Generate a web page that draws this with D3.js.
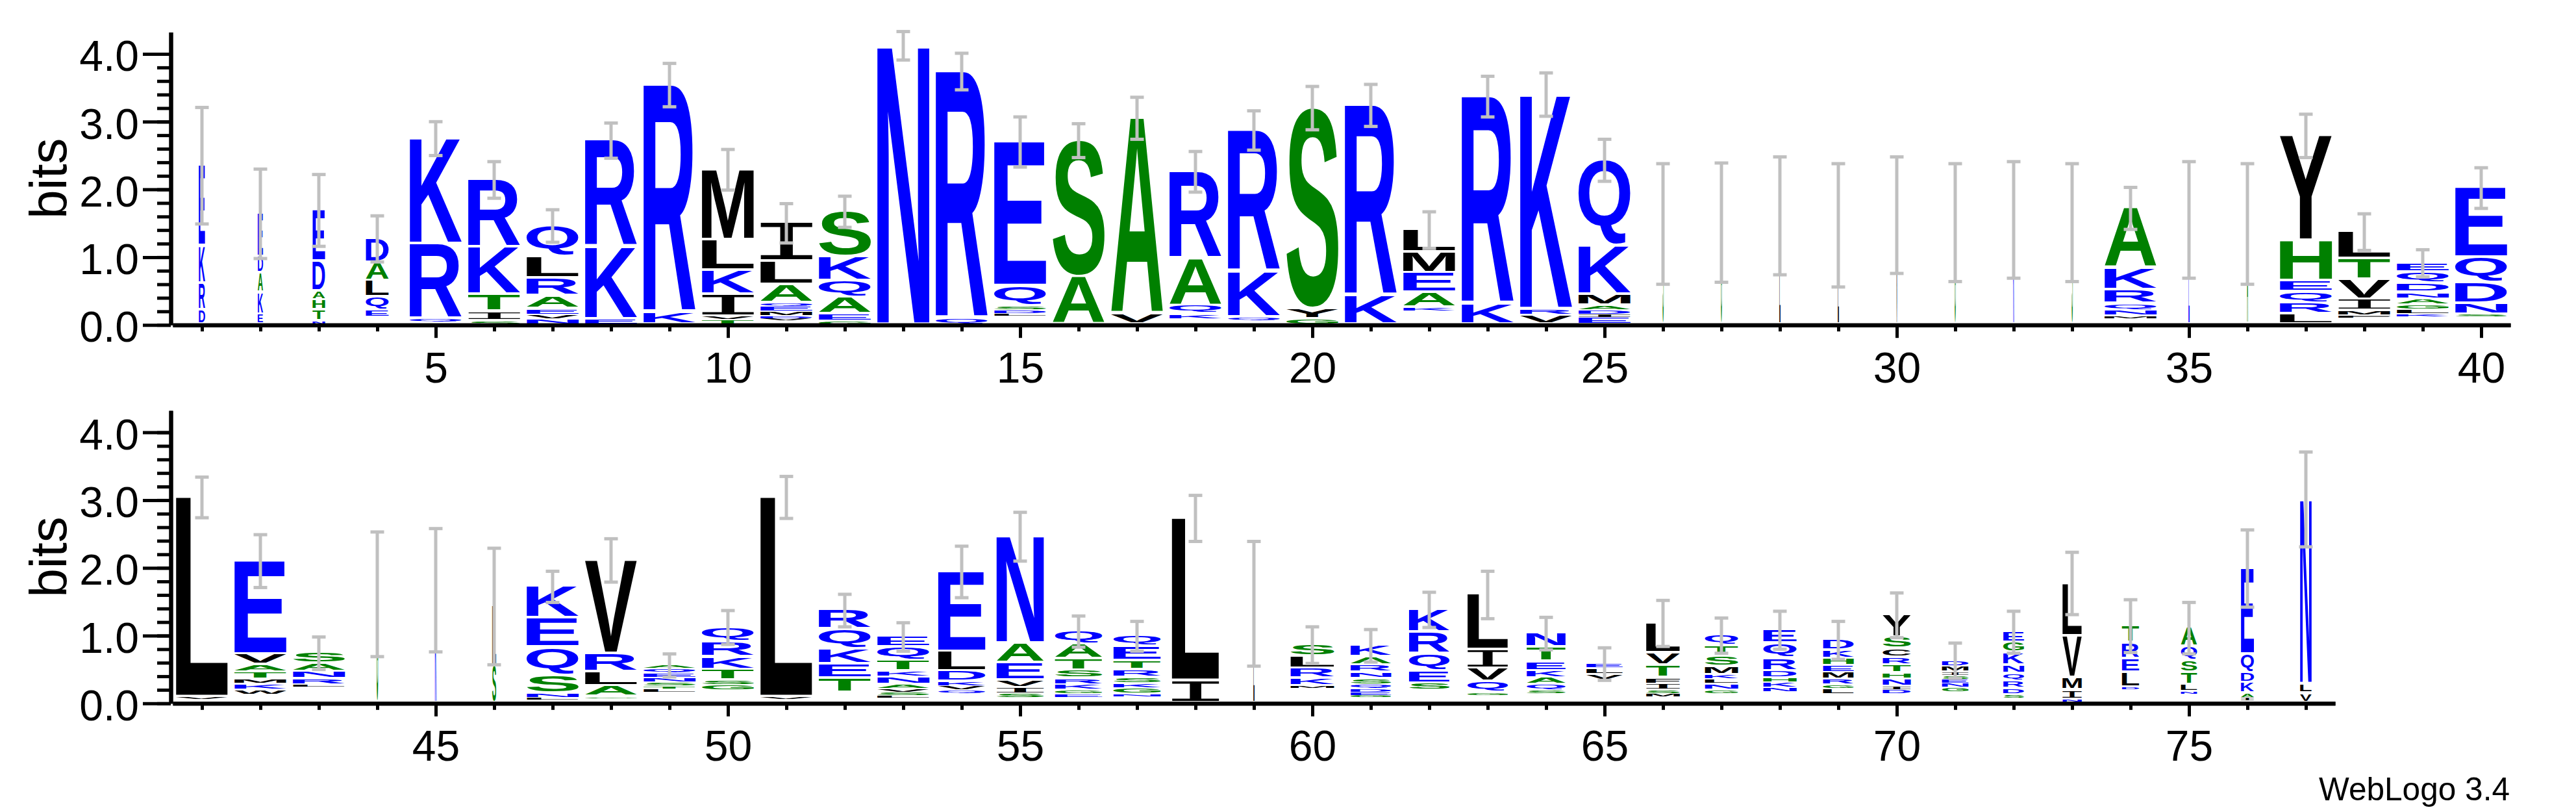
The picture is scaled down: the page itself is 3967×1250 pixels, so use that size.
<!DOCTYPE html>
<html><head><meta charset="utf-8">
<script src="https://cdn.jsdelivr.net/npm/d3@7"></script>
<style>html,body{margin:0;padding:0;background:#fff;}</style>
</head><body>
<script>
// ---------------- DATA ----------------
// Each stack: letters bottom -> top, "Xbits" ; "_" = invisible (very small letters)
const stacksTop = [
 "D.21 R.40 K.55 E1.19",
 "E.15 K.32 A.29 D.24 E.64",
 "N.05 T.16 H.15 A.13 D.44 E.76",
 "_.11 E.10 Q.19 L.24 A.27 D.36",
 "_.04 Q.04 R1.11 K1.56",
 "S.05 I.14 T.25 K.70 R1.00",
 "N.08 V.06 E.09 A.19 R.26 L.32 Q.46",
 "E.08 K1.06 R1.58",
 "K.17 R3.37",
 "T.07 V.05 I.32 K.36 L.45 M1.04",
 "_.06 V.03 D.04 M.06 E.08 Q.05 A.27 L.34 I.57",
 "G.05 E.10 A.25 Q.24 K.36 S.67",
 "N4.12",
 "Q.08 R3.66",
 "_.13 L.03 D.05 S.06 Q.30 E2.13",
 "A.70 S2.02",
 "V.15 A2.90",
 "_.08 K.07 Q.13 A.69 R1.29",
 "_.06 Q.05 K.67 R2.09",
 "G.08 Y.15 S2.97",
 "K.42 R2.82",
 "_.20 K.05 A.22 E.29 M.31 L.33",
 "K.30 R3.07",
 "V.14 R.09 K3.17",
 "E.10 I.05 D.06 A.07 M.16 K.72 Q1.27",
 "S1.49", "G1.51", "L1.61", "L1.47", "V1.62", "G1.51", "K1.55", "S1.51",
 "_.09 M.04 N.08 Q.10 R.20 K.32 A.89",
 "E1.55", "A1.49",
 "L.15 R.16 Q.17 E.16 H.60 Y1.55",
 "_.10 F.04 M.06 I.17 V.29 T.31 L.40",
 "_.12 K.03 L.07 G.07 A.09 N.09 D.14 Q.16 E.14",
 "_.12 S.03 N.16 D.31 Q.37 E1.03"
];
const stacksBottom = [
 "_.06 V.03 L2.95",
 "_.12 W.07 K.09 M.07 T.11 A.10 V.16 E1.38",
 "_.24 L.03 R.09 N.10 A.12 S.16",
 "G1.61",
 "K1.67",
 "S.55 L.88",
 "_.05 L.03 N.06 S.27 Q.41 E.43 K.47",
 "_.07 G.02 A.16 L.21 R.27 V1.38",
 "_.16 L.05 T.04 S.06 N.06 E.07 Q.07 A.05",
 "_.18 G.08 S.07 T.16 K.19 R.22 Q.22",
 "_.06 V.03 L2.95",
 "_.15 T.21 E.21 K.22 Q.30 R.28",
 "_.07 L.04 S.05 V.05 A.06 N.11 K.09 T.16 Q.19 E.16",
 "_.14 Q.05 V.06 K.06 D.16 L.29 E1.18",
 "_.07 S.07 I.08 V.11 E.26 A.29 N1.58",
 "_.08 E.05 G.06 K.08 R.09 S.12 T.17 A.22 Q.19",
 "_.09 N.04 G.09 K.07 S.09 R.11 T.13 E.21 Q.16",
 "I.33 L2.40",
 "L1.47",
 "_.22 M.04 K.10 R.15 L.18 S.17",
 "_.08 G.03 E.05 D.05 Q.06 S.09 N.09 R.11 A.12 K.17",
 "_.18 S.11 E.18 Q.25 R.32 K.34",
 "_.11 G.04 Q.16 V.20 I.27 L.82",
 "_.13 S.06 Q.08 A.10 K.10 E.14 T.21 N.21",
 "_.34 V.08 L.09 E.07",
 "_.09 M.05 S.05 I.09 F.09 T.18 V.19 L.44",
 "_.14 G.05 N.09 L.07 K.06 M.12 S.15 T.16 Q.16",
 "_.16 N.06 K.08 H.07 D.10 R.19 Q.22 E.20",
 "_.13 L.08 G.06 R.08 M.10 E.10 H.10 K.12 D.16",
 "_.13 D.06 I.06 N.10 H.09 T.12 R.11 C.13 S.17 Y.33",
 "_.16 G.07 N.06 E.06 S.05 I.06 M.08 D.09",
 "_.07 S.06 D.08 R.11 Q.11 N.12 K.19 G.15 E.16",
 "_.02 N.03 I.14 M.18 V.62 L.78",
 "_.20 D.03 L.22 E.20 R.24 T.25",
 "_.13 N.04 L.10 T.18 S.17 Q.21 A.28",
 "_.03 I.05 A.06 K.16 D.15 Q.27 E1.27",
 "V.14 L.14 N2.73"
];
// error bar half-widths (bits)
const errTop = [.86,.66,.53,.34,.25,.27,.24,.26,.32,.30,.29,.23,.21,.27,.37,.25,.31,.30,.29,.32,
                .31,.27,.30,.32,.31,.89,.88,.87,.91,.86,.87,.86,.87,.31,.86,.89,.32,.27,.20,.30];
const errBottom = [.30,.39,.24,.92,.91,.86,.23,.32,.17,.25,.31,.24,.21,.38,.36,.23,.22,.34,.92,.27,
                   .24,.26,.35,.24,.24,.34,.26,.28,.28,.33,.26,.31,.46,.39,.38,.57,.70];
// fraction of non-gap sequences (stack width scale)
const occTop = [.12,.10,.24,.44,1,1,1,1,1,1,1,1,1,1,1,1,1,1,1,1,
                1,1,1,1,1,.02,.02,.02,.02,.02,.02,.02,.02,1,.02,.02,1,1,1,1];
const occBottom = [1,1,1,.03,.03,.075,1,1,1,1,1,1,1,.91,.91,.91,.91,.91,.02,.84,
                   .78,.78,.78,.75,.70,.65,.64,.64,.59,.54,.51,.40,.37,.33,.31,.25,.22];
const yMajorTicks = [0,1,2,3,4];
const yMinorTicks = d3.range(0, 21).map(i => i * 0.2);
const yMax = Math.log2(20);
const hydrophilic = "RKDENQ", neutral = "SGHTAP", hydrophobic = "YVMCLFIW";
const footer = "WebLogo 3.4";

// ---------------- RENDER ----------------
const W = 3967, H = 1250;
const svg = d3.select("body").append("svg").attr("width", W).attr("height", H)
  .style("display","block");
svg.append("rect").attr("width",W).attr("height",H).attr("fill","#fff");

const color = ch => hydrophilic.includes(ch) ? "#0000ff" : neutral.includes(ch) ? "#008000" : "#000000";
const LETTER_FONT = "'Liberation Sans', Arial, sans-serif";
const SERIF_I_FONT = "'DejaVu Sans Mono', 'Liberation Mono', monospace";
const fontFor = ch => ch === "I" ? { fam: SERIF_I_FONT, wt: "normal" } : { fam: LETTER_FONT, wt: "bold" };
const ctx = document.createElement("canvas").getContext("2d");
const mcache = {};
function metrics(ch) {
  if (mcache[ch]) return mcache[ch];
  const f = fontFor(ch);
  ctx.font = f.wt + " 200px " + f.fam;
  const m = ctx.measureText(ch);
  return mcache[ch] = { x0: -m.actualBoundingBoxLeft, w: m.actualBoundingBoxLeft + m.actualBoundingBoxRight,
                        y0: -m.actualBoundingBoxAscent, h: m.actualBoundingBoxAscent + m.actualBoundingBoxDescent };
}
const parse = s => s.split(" ").map(t => ({ ch: t[0], bits: +t.slice(1) }));

function drawRow(startPos, stacks, errs, occ, y0, xRight) {
  const n = stacks.length;
  const g = svg.append("g");
  const x = d3.scaleLinear().domain([startPos - 0.5, startPos + n - 0.5]).range([266, xRight]);
  const pxPerBit = 104.3;
  const y = d3.scaleLinear().domain([0, yMax]).range([y0, y0 - yMax * pxPerBit]);
  const fullW = (x(1) - x(0)) * 0.89;
  const positions = d3.range(startPos, startPos + n);

  const lg = g.append("g");
  positions.forEach((p, i) => {
    const w = fullW * occ[i];
    const xl = x(p) - w / 2;
    let cum = 0;
    parse(stacks[i]).forEach(({ ch, bits }) => {
      const b = cum, t = cum + bits; cum = t;
      if (ch === "_") return;
      const yTop = y(t), yBot = y(b);
      const hpx = yBot - yTop;
      const pad = Math.min(4, 0.3 * hpx);
      const m = metrics(ch), f = fontFor(ch);
      lg.append("text").text(ch)
        .attr("font-family", f.fam).attr("font-weight", f.wt).attr("font-size", 200)
        .attr("fill", color(ch))
        .attr("transform", `translate(${xl},${yTop}) scale(${w / m.w},${(hpx - pad) / m.h}) translate(${-m.x0},${-m.y0})`);
    });
    const e = errs[i];
    const eg = g.append("g").attr("stroke", "#c0c0c0").attr("stroke-width", 5).attr("fill", "none");
    const cx = x(p), yt = y(cum + e), yb = y(cum - e);
    eg.append("line").attr("x1", cx).attr("x2", cx).attr("y1", yt).attr("y2", yb);
    eg.append("line").attr("x1", cx - 10.5).attr("x2", cx + 10.5).attr("y1", yt).attr("y2", yt);
    eg.append("line").attr("x1", cx - 10.5).attr("x2", cx + 10.5).attr("y1", yb).attr("y2", yb);
  });

  const yMinorAxis = d3.axisLeft(y).tickValues(yMinorTicks).tickSize(21).tickSizeOuter(0).tickFormat("");
  const yMajorAxis = d3.axisLeft(y).tickValues(yMajorTicks).tickSize(43).tickSizeOuter(0)
      .tickPadding(6).tickFormat(d3.format(".1f"));
  const ya1 = g.append("g").attr("transform", "translate(263,0)").call(yMinorAxis);
  const ya2 = g.append("g").attr("transform", "translate(263,0)").call(yMajorAxis);
  [ya1, ya2].forEach(a => {
    a.selectAll("line").attr("stroke", "#000").attr("stroke-width", 5);
    a.select(".domain").attr("stroke", "#000").attr("stroke-width", 6);
    a.selectAll("text").attr("font-size", 66).attr("font-family", "'Liberation Sans', Arial, sans-serif")
      .attr("fill", "#000").attr("dy", "0.39em");
  });

  const xMinorAxis = d3.axisBottom(x).tickValues(positions).tickSize(10).tickSizeOuter(0).tickFormat("");
  const xMajorAxis = d3.axisBottom(x).tickValues(positions.filter(p => p % 5 === 0)).tickSize(20)
      .tickSizeOuter(0).tickPadding(21.5).tickFormat(d3.format("d"));
  const xa1 = g.append("g").attr("transform", `translate(0,${y0})`).call(xMinorAxis);
  const xa2 = g.append("g").attr("transform", `translate(0,${y0})`).call(xMajorAxis);
  [xa1, xa2].forEach(a => {
    a.selectAll("line").attr("stroke", "#000").attr("stroke-width", 5);
    a.select(".domain").attr("stroke", "#000").attr("stroke-width", 6);
    a.selectAll("text").attr("font-size", 66).attr("font-family", "'Liberation Sans', Arial, sans-serif")
      .attr("fill", "#000");
  });

  g.append("text").text("bits")
    .attr("transform", `translate(102,${(y(0) + y(yMax)) / 2}) rotate(-90)`)
    .attr("text-anchor", "middle").attr("font-size", 80)
    .attr("font-family", "'Liberation Sans', Arial, sans-serif").attr("fill", "#000");
}

function render() {
  drawRow(1, stacksTop, errTop, occTop, 500.2, 3866);
  drawRow(41, stacksBottom, errBottom, occBottom, 1082.8, 3596);
  svg.append("text").text(footer)
    .attr("x", 3865).attr("y", 1232).attr("text-anchor", "end")
    .attr("font-size", 50).attr("font-family", "'Liberation Sans', Arial, sans-serif")
    .attr("textLength", 294).attr("lengthAdjust", "spacingAndGlyphs").attr("fill", "#000");
}
Promise.all([
  document.fonts.load("bold 200px 'Liberation Sans'"),
  document.fonts.load("200px 'DejaVu Sans Mono'")
]).then(render, render);
</script>
</body></html>
